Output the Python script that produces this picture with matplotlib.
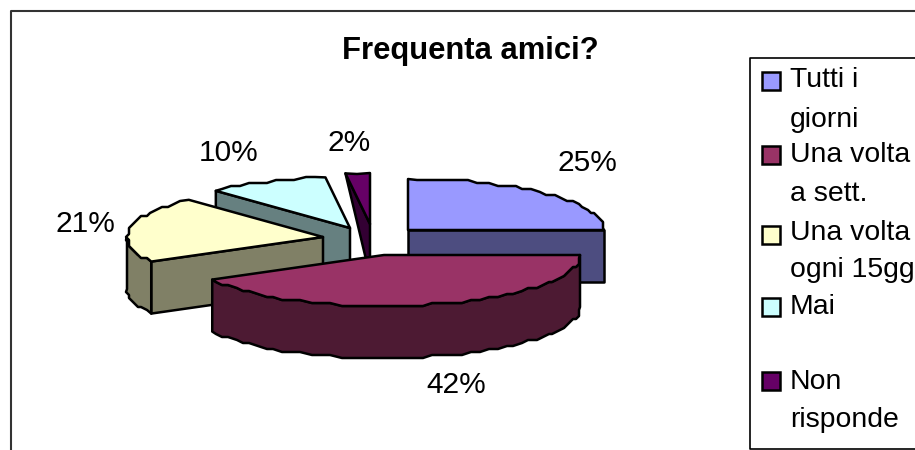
import numpy as np
import matplotlib
matplotlib.use("Agg")
import matplotlib.pyplot as plt
from matplotlib.patches import Polygon, Rectangle

plt.rcParams['font.family'] = ['Liberation Sans', 'DejaVu Sans']

# data
title = "Frequenta amici?"
labels = ["Tutti i\ngiorni", "Una volta\na sett.", "Una volta\nogni 15gg", "Mai", "Non\nrisponde"]
values = [25, 42, 21, 10, 2]
colors = ["#9999FF", "#993366", "#FFFFCC", "#CCFFFF", "#660066"]
sides = ["#4D4D80", "#4D1A33", "#808066", "#668080", "#330033"]

# exploded apex of every slice, in pixels
apex = [(408, 230), (384, 255), (323, 237), (350, 228), (370, 224)]
pct_pos = [(587, 163), (456, 385), (85, 224), (229, 153), (349, 143)]
rx, ry, depth = 196, 51, 52
# baselines of the legend text lines and top of the swatches
legend_lines = [[87, 127], [162, 201], [240, 277], [314], [389, 427]]
legend_box = [72, 146, 226, 298, 372]

fig = plt.figure(figsize=(9.15, 4.5), dpi=100)
ax = fig.add_axes([0, 0, 1, 1])
ax.set_xlim(0, 915)
ax.set_ylim(450, 0)
ax.axis("off")


def rim(c, a0, a1):
    # points on the ellipse, clockwise from 12 o'clock, snapped a bit like the old renderer
    n = max(2, int(abs(a1 - a0) / 3) + 1)
    t = np.radians(np.linspace(a0, a1, n))
    x = c[0] + rx * np.sin(t)
    y = c[1] - ry * np.cos(t)
    x[1:-1] = np.round(x[1:-1] / 3) * 3
    y[1:-1] = np.round(y[1:-1] / 3) * 3
    return np.column_stack([x, y])


def poly(pts, col, z):
    ax.add_patch(Polygon(pts, closed=True, facecolor=col, edgecolor="black", lw=1.8,
                         joinstyle="round", zorder=z))


# chart frame, cut by the picture edge
ax.plot([11, 11, 915], [450, 11, 11], color="#333333", lw=1.5, zorder=1)

total = sum(values)
ends = np.cumsum(values) / total * 360
starts = ends - np.array(values) / total * 360

order = [4, 3, 2, 0, 1]
for z, i in enumerate(order):
    c = np.array(apex[i], dtype=float)
    a0, a1 = starts[i], ends[i]
    base = 10 + z * 5
    down = np.array([0, depth])

    if i == 4:
        # thin slice, only a triangle shows
        p = rim(c, a0, a1)[0]
        poly([p, c, c + down], sides[i], base)
    elif i == 0:
        p = rim(c, a1 - 0.01, a1)[-1]
        poly([c, p, p + down, c + down], sides[i], base)
    elif i in (2, 3):
        p = rim(c, a0, a0 + 0.01)[0]
        poly([p, c, c + down, p + down], sides[i], base)

    # outer wall of the part facing the viewer (90 to 270 degrees)
    w0, w1 = max(a0, 90), min(a1, 270)
    if w1 > w0:
        r = rim(c, w0, w1)
        poly(np.vstack([r, (r + down)[::-1]]), sides[i], base + 1)

    poly(np.vstack([c, rim(c, a0, a1)]), colors[i], base + 2)

# percent labels
for v, (x, y) in zip(values, pct_pos):
    ax.text(x, y, "%d%%" % v, fontsize=21.5, ha="center", va="center", color="black", zorder=50)

ax.text(470, 51, title, fontsize=22.3, fontweight="bold", ha="center", va="center", zorder=50)

# legend, right side runs off the picture
ax.plot([915, 750, 750, 915], [58, 58, 449, 449], color="black", lw=1.2, zorder=40)
for lab, ys, top, col in zip(labels, legend_lines, legend_box, colors):
    ax.add_patch(Rectangle((762, top), 18, 18, facecolor=col, edgecolor="black", lw=1.8, zorder=41))
    for line, y in zip(lab.split("\n"), ys):
        ax.text(790, y, line, fontsize=20.4, ha="left", va="baseline", zorder=41, clip_on=True)

fig.savefig("out.png", dpi=100)
